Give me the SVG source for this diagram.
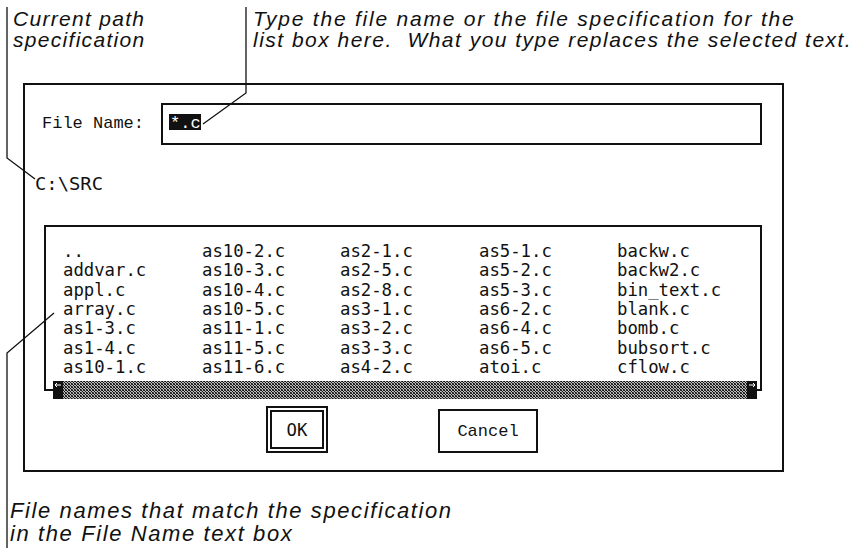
<svg xmlns="http://www.w3.org/2000/svg" width="861" height="552" viewBox="0 0 861 552">
<defs>
<style>
.note{font-family:"Liberation Sans",Arial,sans-serif;font-style:italic;font-size:21px;letter-spacing:1.3px;fill:#111}
.mono{font-family:"DejaVu Sans Mono",monospace;font-size:17.3px;fill:#111}
.cour{font-family:"Liberation Mono","Courier New",monospace;font-size:17px;fill:#111}
.box{fill:none;stroke:#111;stroke-width:2}
.lead{fill:none;stroke:#111;stroke-width:1.3}
</style>
<pattern id="dither" width="3" height="3" patternUnits="userSpaceOnUse">
<rect width="3" height="3" fill="#bbb"/>
<rect x="0" y="0" width="1" height="1" fill="#111"/>
<rect x="1" y="1" width="1" height="1" fill="#111"/>
<rect x="2" y="2" width="1" height="1" fill="#111"/>
<rect x="2" y="0" width="1" height="1" fill="#333"/>
<rect x="0" y="2" width="1" height="1" fill="#555"/>
</pattern>
</defs>
<rect width="861" height="552" fill="#fff"/>

<g id="note-path">
<text class="note" x="13" y="26">Current path</text>
<text class="note" x="13" y="47">specification</text>
</g>
<g id="note-type">
<text class="note" x="253" y="26" textLength="542" lengthAdjust="spacing">Type the file name or the file specification for the</text>
<text class="note" x="253" y="47" textLength="599" lengthAdjust="spacing">list box here.&#160; What you type replaces the selected text.</text>
</g>
<g id="note-list">
<text class="note" x="10" y="518" style="font-size:22px;letter-spacing:1.6px">File names that match the specification</text>
<text class="note" x="10" y="541" style="font-size:22px;letter-spacing:1.6px">in the File Name text box</text>
</g>

<g id="dialog">
<rect class="box" x="24" y="84" width="759" height="387" stroke-width="2.5"/>
</g>

<g id="filename-field">
<text class="cour" x="42" y="128">File Name:</text>
<rect class="box" x="162" y="104" width="599" height="40"/>
<rect x="169" y="114" width="32" height="16" fill="#111"/>
<text class="cour" x="170" y="128" style="fill:#fff" font-size="16">*.c</text>
</g>

<g id="path-label">
<text class="mono" x="35" y="190" textLength="68" lengthAdjust="spacingAndGlyphs">C:\SRC</text>
</g>

<g id="listbox">
<rect class="box" x="45" y="226" width="716" height="164"/>
<g class="mono">
<text x="63" y="257">..</text>
<text x="63" y="276">addvar.c</text>
<text x="63" y="296">appl.c</text>
<text x="63" y="315">array.c</text>
<text x="63" y="334">as1-3.c</text>
<text x="63" y="354">as1-4.c</text>
<text x="63" y="373">as10-1.c</text>
<text x="202" y="257">as10-2.c</text>
<text x="202" y="276">as10-3.c</text>
<text x="202" y="296">as10-4.c</text>
<text x="202" y="315">as10-5.c</text>
<text x="202" y="334">as11-1.c</text>
<text x="202" y="354">as11-5.c</text>
<text x="202" y="373">as11-6.c</text>
<text x="340" y="257">as2-1.c</text>
<text x="340" y="276">as2-5.c</text>
<text x="340" y="296">as2-8.c</text>
<text x="340" y="315">as3-1.c</text>
<text x="340" y="334">as3-2.c</text>
<text x="340" y="354">as3-3.c</text>
<text x="340" y="373">as4-2.c</text>
<text x="479" y="257">as5-1.c</text>
<text x="479" y="276">as5-2.c</text>
<text x="479" y="296">as5-3.c</text>
<text x="479" y="315">as6-2.c</text>
<text x="479" y="334">as6-4.c</text>
<text x="479" y="354">as6-5.c</text>
<text x="479" y="373">atoi.c</text>
<text x="617" y="257">backw.c</text>
<text x="617" y="276">backw2.c</text>
<text x="617" y="296">bin_text.c</text>
<text x="617" y="315">blank.c</text>
<text x="617" y="334">bomb.c</text>
<text x="617" y="354">bubsort.c</text>
<text x="617" y="373">cflow.c</text>
</g>
</g>

<g id="scrollbar">
<rect x="53" y="381" width="704" height="18" fill="url(#dither)"/>
<rect x="53" y="381" width="10" height="18" fill="#111"/>
<path d="M55 385 H61 M55 385 L57 383 M55 385 L57 387" stroke="#fff" stroke-width="1" fill="none"/>
<rect x="747" y="381" width="10" height="18" fill="#111"/>
<path d="M749 385 H755 M755 385 L753 383 M755 385 L753 387" stroke="#fff" stroke-width="1" fill="none"/>
</g>

<g id="ok-button">
<rect class="box" x="267" y="407" width="60" height="45"/>
<rect class="box" x="271" y="411" width="52" height="37"/>
<text class="mono" x="297" y="436" text-anchor="middle">OK</text>
</g>

<g id="cancel-button">
<rect class="box" x="439" y="410" width="98" height="42"/>
<text class="cour" x="488" y="436" text-anchor="middle">Cancel</text>
</g>

<g id="connectors">
<polyline class="lead" points="7,7 7,158 35,179"/>
<polyline class="lead" points="246,7 246,93 203,124"/>
<polyline class="lead" points="54,313 7,353 7,548"/>
</g>
</svg>
